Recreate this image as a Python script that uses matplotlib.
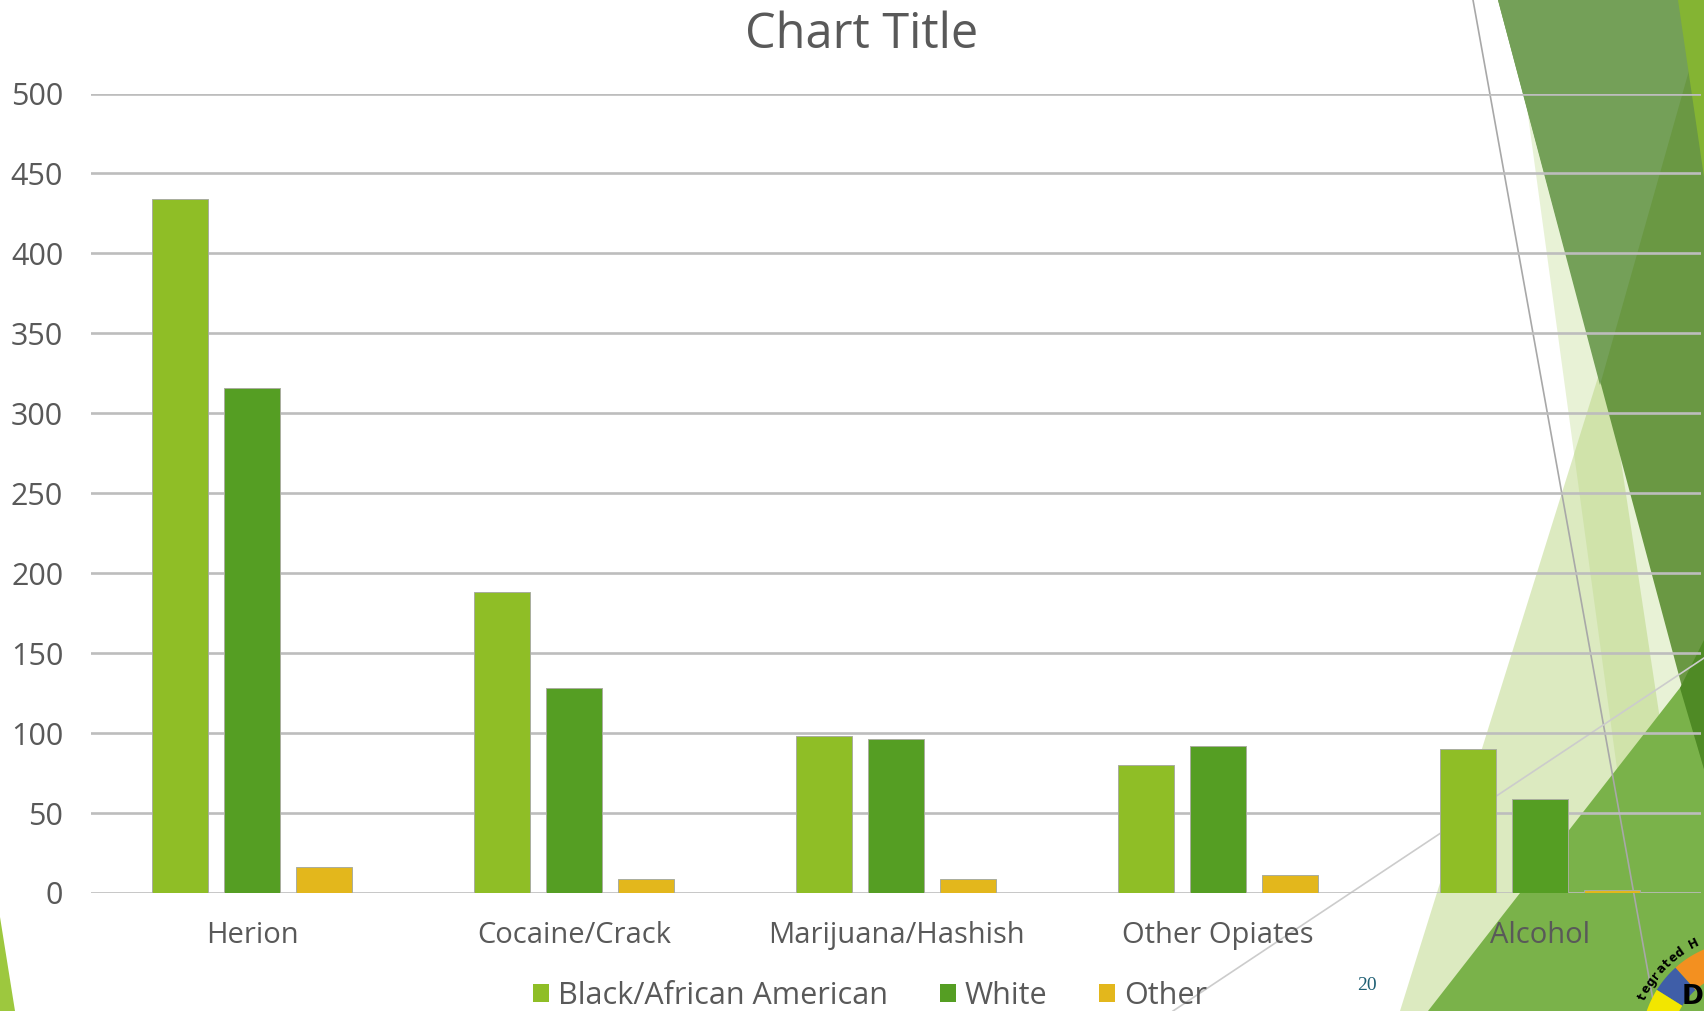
import numpy as np
import matplotlib
matplotlib.use("Agg")
import matplotlib.pyplot as plt
from matplotlib.patches import Polygon, Patch
from matplotlib.lines import Line2D

categories = ["Herion", "Cocaine/Crack", "Marijuana/Hashish", "Other Opiates", "Alcohol"]
series_names = ["Black/African American", "White", "Other"]
black_values = [434, 188, 98, 80, 90]
white_values = [316, 128, 96, 92, 59]
other_values = [16, 9, 9, 11, 2]
y_ticks = [0, 50, 100, 150, 200, 250, 300, 350, 400, 450, 500]
series_colors = ["#8fbe26", "#559e23", "#e3b71c"]

W, H = 1704, 1011
plt.rcParams["font.family"] = ["Open Sans", "DejaVu Sans"]
fig = plt.figure(figsize=(W / 100, H / 100), dpi=100)
fig.patch.set_facecolor("white")


def px(points):
    return [(x / W, 1 - y / H) for x, y in points]


def deco(points, color, alpha=1.0, z=-10):
    fig.add_artist(Polygon(px(points), closed=True, transform=fig.transFigure,
                           facecolor=color, edgecolor="none", alpha=alpha, zorder=z))


def deco_line(p0, p1, color, lw):
    (x0, y0), (x1, y1) = px([p0, p1])
    fig.add_artist(Line2D([x0, x1], [y0, y1], transform=fig.transFigure,
                          color=color, lw=lw, zorder=-5))


# slide theme decorations (right side facets), pixel coords from top-left
deco([(0, 917), (15, 1011), (0, 1011)], "#9dc83e")
deco([(1605, 355), (1400, 1011), (1704, 1011)], "#b5d47a", alpha=0.47)
deco([(1515, 20), (1650, 1011), (1704, 1011), (1704, 20)], "#b5d47a", alpha=0.3)
deco([(1428, 1011), (1704, 1011), (1704, 657)], "#7ab24a")
deco([(1498, 0), (1704, 0), (1704, 769)], "#6a9843")
deco([(1498, 0), (1709, 0), (1600, 385)], "#74a058")
deco([(1678, 0), (1704, 0), (1704, 177)], "#84b433")
deco([(1704, 640), (1680, 688), (1704, 769)], "#4f8a25")
deco_line((1473, 0), (1655, 1011), "#a8a8a8", 1.2)
deco_line((1173, 1011), (1704, 658), "#cccccc", 1.2)

# partial logo in the corner
lx, ly = 1745, H - 1045
for a0, a1, col in [(110, 132, "#f39020"), (132, 148, "#3f5ea8"),
                    (148, 165, "#f2e600"), (165, 185, "#149447")]:
    ring = [(lx + r * np.cos(np.radians(t)), ly + r * np.sin(np.radians(t)))
            for r, ts in [(104, np.linspace(a0, a1, 20)), (74, np.linspace(a1, a0, 20))]
            for t in ts]
    fig.add_artist(Polygon([(a / W, b / H) for a, b in ring], closed=True,
                           transform=fig.transFigure, facecolor=col,
                           edgecolor="none", zorder=-4))
logo_text = "Integrated Health Network"
for i, ch in enumerate(logo_text):
    t = np.radians(163 - i * 4.2)
    x = lx + 113 * np.cos(t)
    y = ly + 113 * np.sin(t)
    if y < 9 or x > W - 7:
        continue
    fig.text(x / W, y / H, ch, fontsize=8.5, fontweight="bold", color="black",
             rotation=np.degrees(t) - 90, ha="center", va="center",
             family="DejaVu Sans", zorder=-3)
fig.text(1682 / W, 1 - 984 / H, "D", fontsize=19, fontweight="bold", color="black",
         ha="left", va="top", family="DejaVu Sans", zorder=-3)

# slide number
fig.text(1367 / W, 1 - 986 / H, "20", fontsize=14, color="#1e5f74",
         family="Liberation Serif", ha="center", va="center")

# chart
ax = fig.add_axes([91 / W, 1 - 893 / H, (1701 - 91) / W, (893 - 93.5) / H])
ax.set_facecolor("none")
x = np.arange(len(categories))
step = 0.2236
width = 0.171
for k, (vals, col) in enumerate(zip([black_values, white_values, other_values], series_colors)):
    ax.bar(x + (k - 1) * step, vals, width, color=col, edgecolor="#a9ad9e",
           linewidth=0.7, zorder=3)

ax.set_xlim(-0.5, len(categories) - 0.5)
ax.set_ylim(0, 500)
ax.set_yticks(y_ticks)
ax.set_xticks(x)
ax.set_xticklabels(categories)
ax.yaxis.grid(True, color="#bdbdbd", linewidth=1.9, zorder=1)
ax.set_axisbelow(True)
for s in ax.spines.values():
    s.set_visible(False)
ax.tick_params(axis="y", length=0, pad=20, labelsize=22, labelcolor="#595959")
ax.tick_params(axis="x", length=0, pad=20, labelsize=21, labelcolor="#595959")

fig.text(862 / W, 1 - 35 / H, "Chart Title", fontsize=35, color="#595959",
         ha="center", va="center")

handles = [Patch(facecolor=c, edgecolor="none") for c in series_colors]
leg = fig.legend(handles, series_names, loc="center", bbox_to_anchor=(870 / W, 1 - 996 / H),
                 ncol=3, frameon=False, fontsize=22, handlelength=0.52, handleheight=0.52,
                 handletextpad=0.3, columnspacing=1.7, borderaxespad=0, borderpad=0)
for t in leg.get_texts():
    t.set_color("#595959")

fig.savefig("out.png", dpi=100)
